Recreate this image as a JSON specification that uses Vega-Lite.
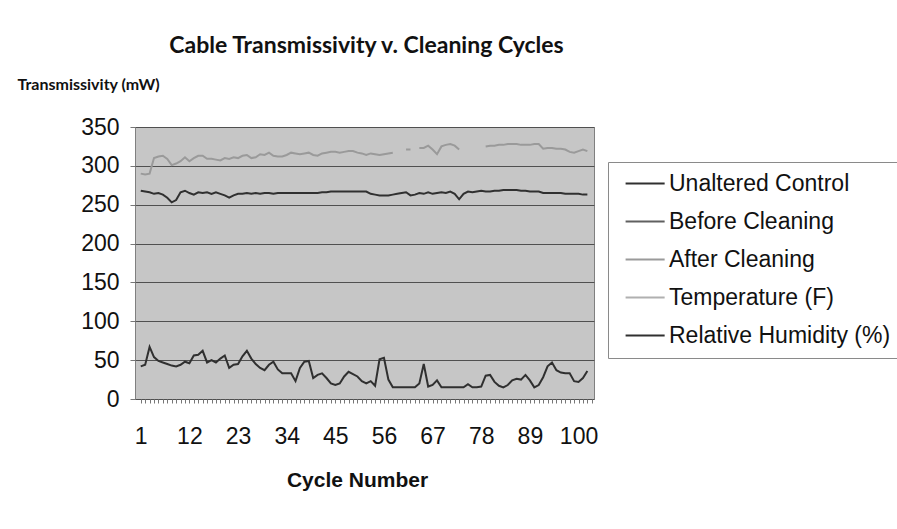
{
  "$schema": "https://vega.github.io/schema/vega-lite/v6.json",
  "width": 459,
  "height": 272,
  "autosize": {"type": "none"},
  "padding": {"left": 135, "top": 127, "right": 303, "bottom": 130},
  "background": "white",
  "config": {
    "font": "Liberation Sans",
    "view": {"fill": "#c6c6c6", "stroke": "#808080"}
  },
  "title": {
    "text": "Cable Transmissivity v. Cleaning Cycles",
    "font": "Lato",
    "fontSize": 23,
    "fontWeight": "bold",
    "color": "#111111",
    "anchor": "middle",
    "dx": 2,
    "offset": 18
  },
  "data": {
    "values": [
      {"c":1,"u":268,"a":290,"h":42},{"c":2,"u":267,"a":289,"h":44},{"c":3,"u":266,"a":290,"h":67},{"c":4,"u":264,"a":310,"h":54},
      {"c":5,"u":265,"a":312,"h":49},{"c":6,"u":263,"a":313,"h":47},{"c":7,"u":259,"a":309,"h":45},{"c":8,"u":253,"a":301,"h":43},
      {"c":9,"u":256,"a":303,"h":42},{"c":10,"u":266,"a":306,"h":44},{"c":11,"u":268,"a":311,"h":48},{"c":12,"u":265,"a":306,"h":46},
      {"c":13,"u":263,"a":310,"h":56},{"c":14,"u":266,"a":313,"h":57},{"c":15,"u":265,"a":313,"h":62},{"c":16,"u":266,"a":309,"h":47},
      {"c":17,"u":264,"a":309,"h":50},{"c":18,"u":266,"a":308,"h":47},{"c":19,"u":264,"a":307,"h":52},{"c":20,"u":262,"a":310,"h":56},
      {"c":21,"u":259,"a":309,"h":40},{"c":22,"u":262,"a":311,"h":44},{"c":23,"u":264,"a":310,"h":45},{"c":24,"u":264,"a":313,"h":55},
      {"c":25,"u":265,"a":314,"h":62},{"c":26,"u":264,"a":310,"h":52},{"c":27,"u":265,"a":311,"h":45},{"c":28,"u":264,"a":315,"h":40},
      {"c":29,"u":265,"a":314,"h":37},{"c":30,"u":265,"a":317,"h":44},{"c":31,"u":264,"a":313,"h":48},{"c":32,"u":265,"a":312,"h":38},
      {"c":33,"u":265,"a":312,"h":33},{"c":34,"u":265,"a":314,"h":33},{"c":35,"u":265,"a":317,"h":33},{"c":36,"u":265,"a":316,"h":23},
      {"c":37,"u":265,"a":315,"h":40},{"c":38,"u":265,"a":316,"h":48},{"c":39,"u":265,"a":317,"h":49},{"c":40,"u":265,"a":314,"h":27},
      {"c":41,"u":265,"a":313,"h":31},{"c":42,"u":266,"a":316,"h":33},{"c":43,"u":266,"a":317,"h":27},{"c":44,"u":267,"a":318,"h":20},
      {"c":45,"u":267,"a":318,"h":18},{"c":46,"u":267,"a":317,"h":20},{"c":47,"u":267,"a":318,"h":29},{"c":48,"u":267,"a":319,"h":35},
      {"c":49,"u":267,"a":319,"h":32},{"c":50,"u":267,"a":317,"h":29},{"c":51,"u":267,"a":316,"h":23},{"c":52,"u":267,"a":314,"h":20},
      {"c":53,"u":264,"a":316,"h":23},{"c":54,"u":263,"a":315,"h":17},{"c":55,"u":262,"a":314,"h":51},{"c":56,"u":262,"a":315,"h":53},
      {"c":57,"u":262,"a":316,"h":25},{"c":58,"u":263,"a":317,"h":15},{"c":59,"u":264,"a":null,"h":15},{"c":60,"u":265,"a":null,"h":15},
      {"c":61,"u":266,"a":321,"h":15},{"c":62,"u":262,"a":321,"h":15},{"c":63,"u":263,"a":null,"h":15},{"c":64,"u":265,"a":323,"h":20},
      {"c":65,"u":264,"a":323,"h":45},{"c":66,"u":266,"a":326,"h":16},{"c":67,"u":264,"a":321,"h":18},{"c":68,"u":265,"a":315,"h":24},
      {"c":69,"u":266,"a":325,"h":15},{"c":70,"u":265,"a":327,"h":15},{"c":71,"u":267,"a":328,"h":15},{"c":72,"u":264,"a":326,"h":15},
      {"c":73,"u":257,"a":321,"h":15},{"c":74,"u":264,"a":null,"h":15},{"c":75,"u":267,"a":null,"h":19},{"c":76,"u":266,"a":null,"h":15},
      {"c":77,"u":267,"a":null,"h":15},{"c":78,"u":268,"a":null,"h":16},{"c":79,"u":267,"a":325,"h":30},{"c":80,"u":267,"a":326,"h":31},
      {"c":81,"u":268,"a":326,"h":22},{"c":82,"u":268,"a":327,"h":17},{"c":83,"u":269,"a":327,"h":15},{"c":84,"u":269,"a":328,"h":18},
      {"c":85,"u":269,"a":328,"h":24},{"c":86,"u":269,"a":328,"h":26},{"c":87,"u":268,"a":327,"h":25},{"c":88,"u":268,"a":327,"h":31},
      {"c":89,"u":267,"a":327,"h":24},{"c":90,"u":267,"a":328,"h":15},{"c":91,"u":267,"a":328,"h":18},{"c":92,"u":265,"a":322,"h":28},
      {"c":93,"u":265,"a":323,"h":42},{"c":94,"u":265,"a":323,"h":47},{"c":95,"u":265,"a":322,"h":37},{"c":96,"u":265,"a":322,"h":34},
      {"c":97,"u":264,"a":321,"h":33},{"c":98,"u":264,"a":318,"h":33},{"c":99,"u":264,"a":317,"h":23},{"c":100,"u":264,"a":319,"h":22},
      {"c":101,"u":263,"a":321,"h":27},{"c":102,"u":263,"a":319,"h":36}
    ]
  },
  "transform": [{"fold": ["u", "a", "h"], "as": ["series", "value"]}],
  "mark": {"type": "line", "invalid": "break-paths-show-domains"},
  "encoding": {
    "x": {
      "field": "c",
      "type": "quantitative",
      "scale": {"domain": [-0.3, 103.5]},
      "axis": {
        "title": "Cycle Number",
        "titleFontSize": 21,
        "titleFontWeight": "bold",
        "titleColor": "#111111",
        "titlePadding": 21,
        "titleX": 222,
        "values": [1,2,3,4,5,6,7,8,9,10,11,12,13,14,15,16,17,18,19,20,21,22,23,24,25,26,27,28,29,30,31,32,33,34,35,36,37,38,39,40,41,42,43,44,45,46,47,48,49,50,51,52,53,54,55,56,57,58,59,60,61,62,63,64,65,66,67,68,69,70,71,72,73,74,75,76,77,78,79,80,81,82,83,84,85,86,87,88,89,90,91,92,93,94,95,96,97,98,99,100,101,102,103],
        "labelExpr": "(datum.value - 1) % 11 == 0 ? datum.label : ''",
        "labelOverlap": false,
        "labelFontSize": 23,
        "labelColor": "#111111",
        "labelPadding": 22,
        "tickSize": 4,
        "tickColor": "#777777",
        "domain": false,
        "grid": false
      }
    },
    "y": {
      "field": "value",
      "type": "quantitative",
      "scale": {"domain": [0, 350]},
      "axis": {
        "title": "Transmissivity (mW)",
        "titleFont": "Lato",
        "titleFontSize": 16,
        "titleFontWeight": "bold",
        "titleColor": "#111111",
        "titleAngle": 0,
        "titleAlign": "left",
        "titleBaseline": "middle",
        "titleX": -118,
        "titleY": -43,
        "values": [0, 50, 100, 150, 200, 250, 300, 350],
        "labelFontSize": 23,
        "labelColor": "#111111",
        "labelPadding": 11,
        "tickSize": 5,
        "tickColor": "#777777",
        "domain": false,
        "grid": true,
        "gridColor": "#505050",
        "gridWidth": 1
      }
    },
    "color": {
      "field": "series",
      "type": "nominal",
      "scale": {
        "domain": ["u", "b", "a", "t", "h"],
        "range": ["#303030", "#606060", "#9a9a9a", "#b0b0b0", "#303030"]
      },
      "legend": {
        "title": null,
        "orient": "none",
        "legendX": 473,
        "legendY": 35,
        "labelExpr": "{'u':'Unaltered Control','b':'Before Cleaning','a':'After Cleaning','t':'Temperature (F)','h':'Relative Humidity (%)'}[datum.label]",
        "labelFontSize": 23,
        "labelColor": "#111111",
        "labelOffset": 28,
        "symbolType": "M-1,0H9",
        "symbolSize": 61,
        "symbolStrokeWidth": 2,
        "rowPadding": 14,
        "padding": 10,
        "strokeColor": "#8a8a8a",
        "fillColor": "white",
        "labelLimit": 400
      }
    },
    "strokeWidth": {
      "field": "series",
      "type": "nominal",
      "scale": {"domain": ["u", "b", "a", "t", "h"], "range": [2, 2, 1.5, 1.5, 2]},
      "legend": null
    }
  }
}
